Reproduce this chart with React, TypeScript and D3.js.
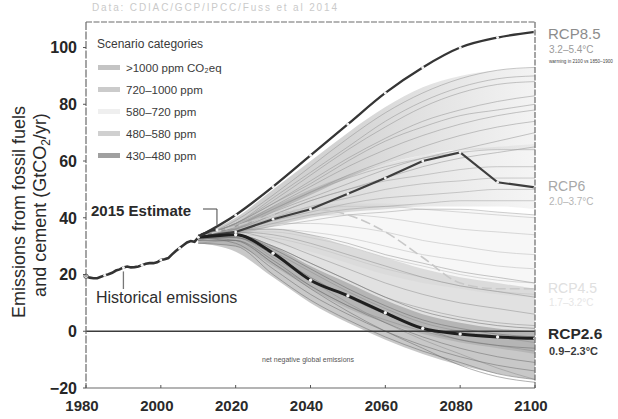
import React from "react";
import * as d3 from "d3";

const WIDTH = 618;
const HEIGHT = 419;

// Historical fossil fuel + cement emissions (GtCO2/yr)
const histYears = [
  1980, 1981, 1982, 1983, 1984, 1985, 1986, 1987, 1988, 1989, 1990, 1991,
  1992, 1993, 1994, 1995, 1996, 1997, 1998, 1999, 2000, 2001, 2002, 2003,
  2004, 2005, 2006, 2007, 2008, 2009, 2010, 2011, 2012, 2013, 2014, 2015,
];
const histValues = [
  19.4, 18.9, 18.7, 18.7, 19.2, 19.7, 20.1, 20.6, 21.4, 21.8, 22.5, 22.8,
  22.5, 22.6, 22.8, 23.3, 23.8, 24.0, 24.0, 24.3, 25.1, 25.4, 25.8, 27.1,
  28.3, 29.3, 30.3, 31.3, 31.8, 31.5, 33.1, 34.1, 34.6, 35.3, 35.7, 35.7,
];

// Scenario years
const scenYears = [2010, 2020, 2030, 2040, 2050, 2060, 2070, 2080, 2090, 2100];

// RCP pathways
const rcp85 = [33.3, 41, 51, 62, 73, 84, 93, 100, 103.5, 105.5];
const rcp60 = [33.2, 35, 39.5, 43, 48.5, 54, 60, 63, 52.5, 50.7];
const rcp45 = [33.2, 37, 41, 43, 41, 35, 26, 17, 15, 15];
const rcp26 = [33.1, 34, 27.5, 18, 12.5, 6.5, 1, -1, -2, -2.5];

// Category envelopes (lower / upper)
const band1000Lower = [33, 36, 42, 48, 54, 59, 62, 64, 64, 64];
const band1000Upper = [34, 40, 50, 60, 70, 79, 86, 90, 92, 93];
const band720Lower = [33, 34, 37, 40, 42, 43, 44, 44, 44, 43];
const band720Upper = [34, 38, 44, 50, 55, 59, 62, 64, 65, 66];
const band580Lower = [32, 33, 31, 28, 24, 20, 17, 15, 13, 12];
const band580Upper = [34, 37, 41, 44, 45, 45, 44, 43, 42, 41];
const band480Lower = [31, 30, 23, 15, 8, 3, -1, -4, -6, -8];
const band480Upper = [34, 36, 36, 34, 30, 26, 22, 19, 17, 15];
const band430Lower = [31, 28, 19, 10, 3, -3, -8, -12, -15, -17];
const band430Upper = [34, 34, 30, 23, 17, 11, 6, 3, 1, 0];

// Individual scenario pathways per category
const paths1000 = [
  [33, 39, 48, 58, 68, 77, 84, 89, 92, 93],
  [34, 38, 47, 56, 65, 74, 81, 86, 89, 90],
  [34, 38, 46, 55, 64, 72, 79, 84, 87, 88],
  [33, 38, 45, 53, 61, 68, 74, 78, 81, 83],
  [33, 38, 45, 52, 60, 67, 72, 76, 78, 80],
  [33, 37, 44, 51, 58, 64, 69, 73, 76, 78],
  [32, 37, 43, 49, 55, 60, 65, 69, 72, 74],
  [33, 36, 42, 47, 52, 57, 61, 64, 67, 70],
  [34, 36, 41, 46, 50, 54, 58, 61, 63, 65],
];
const paths720 = [
  [33, 37, 43, 49, 54, 58, 61, 63, 64, 64],
  [34, 36, 41, 46, 50, 53, 55, 57, 58, 58],
  [33, 36, 40, 44, 47, 50, 52, 53, 54, 54],
  [32, 35, 39, 42, 45, 47, 48, 49, 50, 50],
  [33, 35, 38, 41, 43, 44, 45, 46, 46, 46],
  [34, 35, 37, 39, 41, 42, 43, 43, 42, 41],
];
const paths580 = [
  [33, 37, 41, 43, 44, 44, 43, 42, 41, 40],
  [34, 36, 39, 41, 41, 40, 38, 36, 35, 34],
  [33, 36, 38, 38, 37, 35, 32, 30, 28, 27],
  [32, 35, 36, 35, 33, 30, 27, 25, 23, 22],
  [33, 35, 35, 33, 30, 26, 23, 20, 18, 17],
  [34, 34, 33, 30, 26, 22, 19, 16, 14, 13],
];
const paths480 = [
  [33, 36, 36, 34, 31, 27, 24, 21, 19, 17],
  [34, 35, 34, 31, 27, 23, 19, 16, 14, 12],
  [33, 35, 32, 27, 22, 17, 13, 10, 8, 6],
  [32, 34, 30, 24, 18, 12, 8, 5, 3, 2],
  [33, 33, 28, 21, 14, 8, 3, 0, -2, -4],
  [33, 33, 26, 18, 10, 3, -3, -8, -13, -17],
  [31, 32, 24, 16, 9, 4, 0, -3, -5, -7],
];
const paths430 = [
  [33, 34, 30, 24, 18, 12, 7, 4, 2, 1],
  [34, 34, 29, 22, 15, 9, 4, 1, -1, -2],
  [33, 33, 27, 19, 12, 6, 1, -3, -5, -6],
  [32, 32, 25, 16, 9, 3, -2, -6, -9, -11],
  [33, 31, 22, 13, 6, 0, -5, -9, -12, -14],
  [31, 30, 20, 11, 4, -2, -7, -11, -15, -17],
  [33, 32, 24, 15, 7, 0, -6, -12, -16, -18],
];

const legendLabels = [
  ">1000 ppm CO\u2082eq",
  "720\u20131000 ppm",
  "580\u2013720 ppm",
  "480\u2013580 ppm",
  "430\u2013480 ppm",
];
const legendColors = ["#c4c4c4", "#cbcbcb", "#efefef", "#d0d0d0", "#a0a0a0"];

const xTicks = [1980, 2000, 2020, 2040, 2060, 2080, 2100];
const yTicks = [-20, 0, 20, 40, 60, 80, 100];

const FONT = "'Liberation Sans', Arial, Helvetica, sans-serif";

export default function App() {
  const x = d3.scaleLinear().domain([1980, 2100]).range([86, 535]);
  const y = d3.scaleLinear().domain([-20, 109]).range([388, 22]);

  const line = d3
    .line<[number, number]>()
    .x((d) => x(d[0]))
    .y((d) => y(d[1]))
    .curve(d3.curveMonotoneX);

  const straight = d3
    .line<[number, number]>()
    .x((d) => x(d[0]))
    .y((d) => y(d[1]))
    .curve(d3.curveLinear);

  const area = d3
    .area<[number, number, number]>()
    .x((d) => x(d[0]))
    .y0((d) => y(d[1]))
    .y1((d) => y(d[2]))
    .curve(d3.curveMonotoneX);

  const pts = (vals: number[]) =>
    scenYears.map((yr, i) => [yr, vals[i]] as [number, number]);
  const band = (lo: number[], hi: number[]) =>
    scenYears.map((yr, i) => [yr, lo[i], hi[i]] as [number, number, number]);

  const histPts = histYears.map((yr, i) => [yr, histValues[i]] as [number, number]);

  const bands = [
    { lo: band580Lower, hi: band580Upper, fill: "#e4e4e4", op: 0.28 },
    { lo: band1000Lower, hi: band1000Upper, fill: "url(#fadeHigh)", op: 1 },
    { lo: band720Lower, hi: band720Upper, fill: "url(#fadeMid)", op: 1 },
    { lo: band480Lower, hi: band480Upper, fill: "#9a9a9a", op: 0.3 },
    { lo: band430Lower, hi: band430Upper, fill: "#6e6e6e", op: 0.38 },
  ];

  const pathGroups = [
    { paths: paths580, stroke: "#c4c4c4", op: 0.8 },
    { paths: paths1000, stroke: "#8c8c8c", op: 0.6 },
    { paths: paths720, stroke: "#9a9a9a", op: 0.6 },
    { paths: paths480, stroke: "#8a8a8a", op: 0.6 },
    { paths: paths430, stroke: "#6a6a6a", op: 0.65 },
  ];

  const rcpDots = (vals: number[], r: number) =>
    scenYears.slice(1).map((yr, i) => (
      <circle key={yr} cx={x(yr)} cy={y(vals[i + 1])} r={r} fill="#f4f4f4" />
    ));

  const histDots = histYears
    .filter((yr) => yr % 5 === 0 && yr > 1980)
    .map((yr) => (
      <circle
        key={yr}
        cx={x(yr)}
        cy={y(histValues[histYears.indexOf(yr)])}
        r={1.5}
        fill="#f4f4f4"
      />
    ));

  const plotLeft = x(1980);
  const plotRight = x(2100);
  const plotTop = y(109);
  const plotBottom = y(-20);

  return (
    <svg
      width={WIDTH}
      height={HEIGHT}
      viewBox={`0 0 ${WIDTH} ${HEIGHT}`}
      style={{ position: "absolute", left: 0, top: 0, background: "#fff" }}
      fontFamily={FONT}
    >
      <defs>
        <linearGradient id="fadeHigh" gradientUnits="userSpaceOnUse" x1={x(2010)} x2={x(2100)} y1={0} y2={0}>
          <stop offset="0%" stopColor="#7a7a7a" stopOpacity={0.4} />
          <stop offset="45%" stopColor="#7a7a7a" stopOpacity={0.32} />
          <stop offset="100%" stopColor="#8a8a8a" stopOpacity={0.1} />
        </linearGradient>
        <linearGradient id="fadeMid" gradientUnits="userSpaceOnUse" x1={x(2010)} x2={x(2100)} y1={0} y2={0}>
          <stop offset="0%" stopColor="#808080" stopOpacity={0.4} />
          <stop offset="45%" stopColor="#888" stopOpacity={0.28} />
          <stop offset="100%" stopColor="#999" stopOpacity={0.1} />
        </linearGradient>
      </defs>
      <rect x={0} y={0} width={WIDTH} height={HEIGHT} fill="#fff" />

      {/* source line */}
      <text x={92} y={11} fontSize={10} fill="#cacaca" textLength={245}>
        Data: CDIAC/GCP/IPCC/Fuss et al 2014
      </text>

      {/* scenario envelopes */}
      <g>
        {bands.map((b, i) => (
          <path key={i} d={area(band(b.lo, b.hi)) || ""} fill={b.fill} fillOpacity={b.op} />
        ))}
      </g>

      {/* individual scenarios */}
      <g fill="none" strokeWidth={0.8}>
        {pathGroups.map((g, gi) =>
          g.paths.map((p, pi) => (
            <path
              key={`${gi}-${pi}`}
              d={line(pts(p)) || ""}
              stroke={g.stroke}
              strokeOpacity={g.op}
            />
          ))
        )}
      </g>

      {/* zero line */}
      <line x1={plotLeft} x2={plotRight} y1={y(0)} y2={y(0)} stroke="#3c3c3c" strokeWidth={1.3} />

      {/* RCP pathways */}
      <path d={line(pts(rcp45)) || ""} fill="none" stroke="#c8c8c8" strokeWidth={1.6} strokeDasharray="10 4" />
      <path d={straight(pts(rcp60)) || ""} fill="none" stroke="#3e3e3e" strokeWidth={2.2} />
      {rcpDots(rcp60, 1.4)}
      <path d={line(pts(rcp85)) || ""} fill="none" stroke="#353535" strokeWidth={2.3} />
      {rcpDots(rcp85, 1.5)}
      <path d={line(pts(rcp26)) || ""} fill="none" stroke="#1f1f1f" strokeWidth={3} />
      {rcpDots(rcp26, 1.7)}

      {/* historical emissions */}
      <path d={straight(histPts) || ""} fill="none" stroke="#333" strokeWidth={2.6} />
      {histDots}
      <circle cx={x(1980)} cy={y(histValues[0])} r={2.2} fill="#fff" stroke="#555" strokeWidth={1} />

      {/* frame */}
      <g stroke="#6a6a6a" strokeWidth={1.2} fill="none">
        <line x1={plotLeft} x2={plotRight} y1={plotTop} y2={plotTop} strokeDasharray="6 1.5" />
        <line x1={plotRight} x2={plotRight} y1={plotTop} y2={plotBottom} strokeDasharray="6 1.5" />
        <line x1={plotLeft} x2={plotLeft} y1={plotTop} y2={plotBottom} strokeDasharray="8 1.5" />
        <line x1={plotLeft} x2={plotRight} y1={plotBottom} y2={plotBottom} />
      </g>

      {/* y axis ticks and labels */}
      <g>
        {yTicks.map((t) => (
          <g key={t}>
            <line x1={plotLeft - 3} x2={plotLeft} y1={y(t)} y2={y(t)} stroke="#555" />
            <text
              x={plotLeft - 9}
              y={y(t)}
              dy="0.36em"
              textAnchor="end"
              fontSize={16}
              fontWeight={600}
              fill="#262626"
            >
              {t < 0 ? `\u2212${-t}` : t}
            </text>
          </g>
        ))}
      </g>

      {/* x axis ticks and labels */}
      <g>
        {xTicks.map((t) => (
          <g key={t}>
            <line x1={x(t)} x2={x(t)} y1={plotBottom} y2={plotBottom - 3} stroke="#555" />
            <text
              x={x(t) - 4}
              y={411}
              textAnchor="middle"
              fontSize={15}
              fontWeight={600}
              fill="#2a2a2a"
            >
              {t}
            </text>
          </g>
        ))}
      </g>

      {/* y axis title */}
      <text
        transform={`translate(25, 212) rotate(-90)`}
        textAnchor="middle"
        fontSize={18}
        fill="#2a2a2a"
      >
        Emissions from fossil fuels
      </text>
      <text
        transform={`translate(46, 205) rotate(-90)`}
        textAnchor="middle"
        fontSize={18}
        fill="#2a2a2a"
      >
        and cement (GtCO<tspan dy={4} fontSize={12}>2</tspan>
        <tspan dy={-4}>/yr)</tspan>
      </text>

      {/* legend */}
      <g>
        <text x={97} y={48} fontSize={12} fill="#3a3a3a">
          Scenario categories
        </text>
        {legendLabels.map((lab, i) => (
          <g key={lab}>
            <rect x={98} y={65 + i * 22} width={22} height={5} fill={legendColors[i]} />
            <text x={126} y={72 + i * 22} fontSize={11.5} fill="#3a3a3a">
              {lab}
            </text>
          </g>
        ))}
      </g>

      {/* annotations */}
      <text x={91} y={216} fontSize={15} fontWeight={700} fill="#2a2a2a">
        2015 Estimate
      </text>
      <polyline
        points={`203,209 ${x(2015)},209 ${x(2015)},${y(35.7) - 5}`}
        fill="none"
        stroke="#444"
        strokeWidth={1}
      />
      <text x={96} y={303} fontSize={16} fontWeight={500} fill="#2e2e2e">
        Historical emissions
      </text>
      <line x1={x(1990)} x2={x(1990)} y1={y(22.5) + 4} y2={289} stroke="#777" strokeWidth={1.3} />
      <text x={308} y={362} textAnchor="middle" fontSize={7} fill="#555">
        net negative global emissions
      </text>

      {/* RCP labels */}
      <text x={548} y={39} fontSize={15} fill="#8c8c8c">RCP8.5</text>
      <text x={549} y={53} fontSize={10} fill="#9a9a9a">3.2–5.4°C</text>
      <text x={549} y={63} fontSize={4.6} fill="#444">warming in 2100 vs 1850–1900</text>

      <text x={548} y={191} fontSize={14} fill="#a8a8a8">RCP6</text>
      <text x={549} y={205} fontSize={10} fill="#b4b4b4">2.0–3.7°C</text>

      <text x={548} y={293} fontSize={14} fill="#e0e0e0">RCP4.5</text>
      <text x={549} y={306} fontSize={10} fill="#e6e6e6">1.7–3.2°C</text>

      <text x={548} y={339} fontSize={15.5} fontWeight={600} fill="#2a2a2a">RCP2.6</text>
      <text x={549} y={355} fontSize={11} fontWeight={600} fill="#3a3a3a">0.9–2.3°C</text>
    </svg>
  );
}
